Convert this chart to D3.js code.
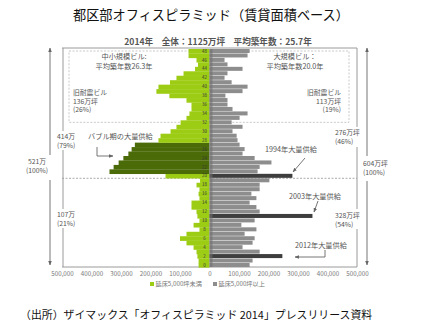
<!DOCTYPE html>
<html><head><meta charset="utf-8">
<script src="https://cdn.jsdelivr.net/npm/d3@7/dist/d3.min.js"></script>
<style>body{margin:0;background:#fff}svg{display:block}text{font-family:"Noto Sans CJK JP","Noto Sans",sans-serif}</style>
</head><body><svg id="c" width="423" height="334"></svg>
<script>
// ages 0..48 (築年数)
const ages = d3.range(0, 49);
// 延床5,000坪未満 (坪) by age 0..48
const smallValues = [37000,37000,41000,44000,54000,78000,100000,78000,34000,54000,
  34000,41000,44000,61000,61000,34000,37000,34000,44000,32000,
  149000,339000,325000,308000,292000,275000,264000,253000,173000,166000,
  132000,112000,98000,78000,68000,61000,61000,78000,136000,180000,
  173000,134000,112000,88000,49000,39000,44000,71000,71000];
// 延床5,000坪以上 (坪) by age 0..48
const largeValues = [136000,146000,247000,170000,112000,146000,153000,119000,159000,108000,
  153000,349000,170000,159000,136000,159000,142000,170000,170000,203000,
  281000,163000,170000,210000,153000,112000,119000,102000,95000,92000,
  78000,112000,75000,102000,129000,78000,61000,61000,54000,112000,
  129000,75000,51000,61000,112000,61000,51000,129000,136000];
const bubbleAges = [21,22,23,24,25,26,27];
const supplyAges = [20,11,2];
const tickValues = [-500000,-400000,-300000,-200000,-100000,0,100000,200000,300000,400000,500000];
const legendLabels = ["延床5,000坪未満","延床5,000坪以上"];

const svg = d3.select("#c");
const x = d3.scaleLinear().domain([-500000,500000]).range([62,357]);
const y = d3.scaleBand().domain(ages.slice().reverse()).range([49,267]).paddingInner(0.1);
const x0 = x(0);

const cGreen="#9dcc14", cDark="#4b6a08", cGray="#8d8d8d", cGrayD="#3e3e3e", cLine="#9a9a9a", cTxt="#555";

svg.append("text").attr("x",211).attr("y",20).attr("text-anchor","middle")
  .attr("font-size",13.2).attr("fill","#111").text("都区部オフィスピラミッド（賃貸面積ベース）");
svg.append("text").attr("x",218).attr("y",45).attr("text-anchor","middle")
  .attr("font-size",8.6).attr("font-weight","bold").attr("fill","#555")
  .text("2014年　全体：1125万坪　平均築年数：25.7年");

// inner dashed boxes (old seismic)
const boxBottom = y(33)+y.step()+2;
svg.append("rect").attr("x",69).attr("y",51).attr("width",x0-69).attr("height",boxBottom-51)
  .attr("fill","none").attr("stroke","#bbb").attr("stroke-width",0.8).attr("stroke-dasharray","2,1.5");
svg.append("rect").attr("x",x0).attr("y",51).attr("width",349-x0).attr("height",boxBottom-51)
  .attr("fill","none").attr("stroke","#bbb").attr("stroke-width",0.8).attr("stroke-dasharray","2,1.5");

// frame
const frameTop=48, frameBot=267, divY = y(20)+y.step();
svg.append("line").attr("x1",62).attr("x2",357).attr("y1",frameTop).attr("y2",frameTop).attr("stroke",cLine);
svg.append("line").attr("x1",62).attr("x2",357).attr("y1",frameBot).attr("y2",frameBot).attr("stroke",cLine);
svg.append("line").attr("x1",62).attr("x2",357).attr("y1",divY).attr("y2",divY).attr("stroke","#aaa").attr("stroke-dasharray","2,1.5");
[[48,131],[150,209],[228,267]].forEach(s=>svg.append("line").attr("x1",63).attr("x2",63).attr("y1",s[0]).attr("y2",s[1]).attr("stroke",cLine));
[[48,127],[147,209],[229,267]].forEach(s=>svg.append("line").attr("x1",357).attr("x2",357).attr("y1",s[0]).attr("y2",s[1]).attr("stroke",cLine));

// bars
svg.append("g").selectAll("rect").data(ages).join("rect")
  .attr("x",a=>x(-smallValues[a])).attr("y",a=>y(a)).attr("width",a=>x0-x(-smallValues[a])).attr("height",y.step()+0.2)
  .attr("fill",a=>bubbleAges.includes(a)?cDark:cGreen);
svg.append("g").selectAll("rect").data(ages).join("rect")
  .attr("x",x0).attr("y",a=>y(a)).attr("width",a=>x(largeValues[a])-x0).attr("height",y.bandwidth())
  .attr("fill",a=>supplyAges.includes(a)?cGrayD:cGray);
svg.append("rect").attr("x",x0).attr("y",49).attr("width",3).attr("height",218).attr("fill","#6f6f6f").attr("opacity",0.6);
svg.append("g").selectAll("text").data(ages.filter(a=>a%2===0)).join("text")
  .attr("x",x0-5).attr("y",a=>y(a)+y.bandwidth()/2+1.6).attr("text-anchor","middle")
  .attr("font-size",4.4).attr("fill","#333").text(a=>a);

// axis
const ax = svg.append("g").attr("transform","translate(0,269)")
  .call(d3.axisBottom(x).tickValues(tickValues).tickSize(0).tickFormat(v=>d3.format(",")(Math.abs(v))));
ax.select(".domain").remove();
ax.selectAll("text").attr("font-size",6.2).attr("fill","#777").attr("dy","0.6em");

// legend
svg.append("rect").attr("x",150).attr("y",282).attr("width",4).attr("height",4).attr("fill",cGreen);
svg.append("text").attr("x",155.5).attr("y",286.3).attr("font-size",6.2).attr("fill","#777").text(legendLabels[0]);
svg.append("rect").attr("x",213).attr("y",282).attr("width",4).attr("height",4).attr("fill",cGray);
svg.append("text").attr("x",218.5).attr("y",286.3).attr("font-size",6.2).attr("fill","#777").text(legendLabels[1]);

// arrows
const defs = svg.append("defs");
defs.append("marker").attr("id","ah").attr("viewBox","0 0 10 10").attr("refX",9).attr("refY",5)
  .attr("markerWidth",5).attr("markerHeight",5).attr("orient","auto")
  .append("path").attr("d","M0,1L10,5L0,9z").attr("fill","#666");
function arrow(pts, w){
  svg.append("path").attr("d",d3.line()(pts)).attr("fill","none").attr("stroke","#666").attr("stroke-width",w||0.9).attr("marker-end","url(#ah)");
}
arrow([[50,155],[50,48]]); arrow([[50,180],[50,265]]);
arrow([[367,156],[367,48]]); arrow([[367,181],[367,265]]);

function txt(xx,yy,lines,anchor,size,fill,lh){
  const t = svg.append("text").attr("x",xx).attr("y",yy).attr("text-anchor",anchor||"start")
    .attr("font-size",size||6.8).attr("fill",fill||cTxt);
  [].concat(lines).forEach((s,i)=>t.append("tspan").attr("x",xx).attr("dy",i?(lh||8.8):0).text(s));
}
txt(37,164,["521万","(100%)"],"middle");
txt(57,139,["414万","(79%)"]);
txt(57,217,["107万","(21%)"]);
txt(335,135,["276万坪","(46%)"]);
txt(335,218,["328万坪","(54%)"]);
txt(363,166,["604万坪","(100%)"]);

txt(124,59,["中小規模ビル:","平均築年数26.3年"],"middle",7.2,cTxt,10);
txt(73,95,["旧耐震ビル","136万坪","(26%)"],"start",6.8,cTxt,8.6);
txt(295,59,["大規模ビル：","平均築年数20.0年"],"middle",7.2,cTxt,10);
txt(341,95,["旧耐震ビル","113万坪","(19%)"],"end",6.8,cTxt,8.6);

txt(88,139,"バブル期の大量供給","start",7.2);
arrow([[97,147],[97,156],[113,156]],0.9);
txt(265,152,"1994年大量供給","start",7.2);
arrow([[305,158],[293,172]],0.9);
txt(289,199,"2003年大量供給","start",7.2);
arrow([[318,201],[314,212]],0.9);
txt(295,248,"2012年大量供給","start",7.2);
arrow([[325,250],[325,257],[295,257]],0.9);

txt(20,319,"（出所）ザイマックス「オフィスピラミッド 2014」プレスリリース資料","start",10.9,"#111");
</script></body></html>
